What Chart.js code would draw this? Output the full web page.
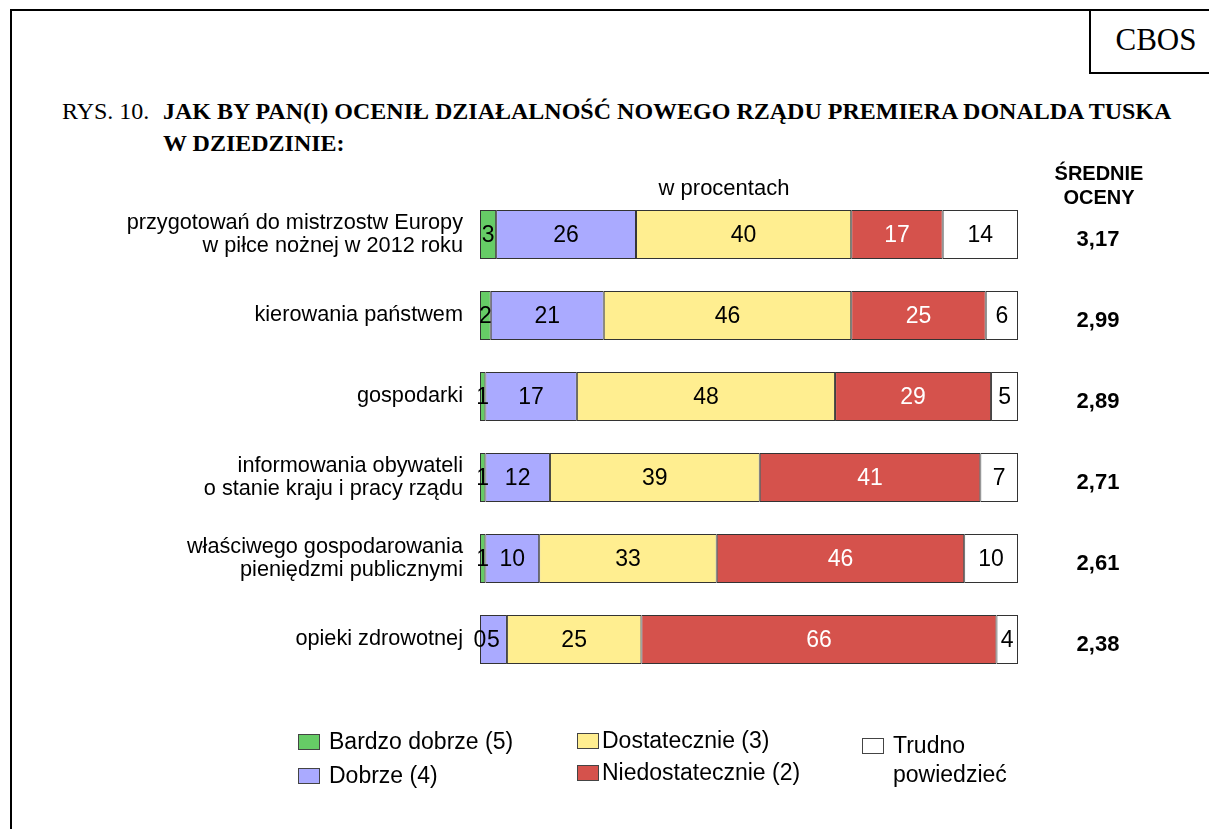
<!DOCTYPE html>
<html>
<head>
<meta charset="utf-8">
<script src="https://cdn.jsdelivr.net/npm/chart.js@4.4.1/dist/chart.umd.min.js"></script>
<style>
  body { margin: 0; background: #fff; }
  #page { position: relative; width: 1209px; height: 829px; overflow: hidden; font-family: "Liberation Sans", Arial, sans-serif; }
  #frame { position: absolute; left: 10px; top: 9px; width: 1400px; height: 1000px; border-left: 2px solid #000; border-top: 2px solid #000; }
  #cbos { position: absolute; left: 1089px; top: 9px; width: 200px; height: 63px; border-left: 2px solid #000; border-bottom: 2px solid #000; }
  #cbos span { position: absolute; left: 0; width: 130px; top: 13px; text-align: center; font: 31px "Liberation Serif", serif; }
  .title { position: absolute; font: 24px "Liberation Serif", serif; white-space: nowrap; }
  .title b { font-weight: bold; }
  #chart { position: absolute; left: 0; top: 0; }
  .leg { position: absolute; font-size: 23px; color: #000; white-space: nowrap; line-height: 29px; }
  .leg i { display: inline-block; width: 20px; height: 14px; border: 1px solid #444; vertical-align: -1px; margin-right: 9px; }
</style>
</head>
<body>
<div id="page">
  <div id="frame"></div>
  <div id="cbos"><span>CBOS</span></div>
  <div class="title" style="left:62px; top:98px;">RYS. 10.</div>
  <div class="title" style="left:163px; top:98px;"><b>JAK BY PAN(I) OCENIŁ DZIAŁALNOŚĆ NOWEGO RZĄDU PREMIERA DONALDA TUSKA</b></div>
  <div class="title" style="left:163px; top:130px;"><b>W DZIEDZINIE:</b></div>
  <canvas id="chart" width="1209" height="829"></canvas>
  <div id="legend"></div>
</div>
<script>
// dane z rysunku
var categories = [
  ["przygotowań do mistrzostw Europy", "w piłce nożnej w 2012 roku"],
  "kierowania państwem",
  "gospodarki",
  ["informowania obywateli", "o stanie kraju i pracy rządu"],
  ["właściwego gospodarowania", "pieniędzmi publicznymi"],
  "opieki zdrowotnej"
];
var seriesNames = ["Bardzo dobrze (5)", "Dobrze (4)", "Dostatecznie (3)", "Niedostatecznie (2)", "Trudno powiedzieć"];
var bardzoDobrze = [3, 2, 1, 1, 1, 0];
var dobrze = [26, 21, 17, 12, 10, 5];
var dostatecznie = [40, 46, 48, 39, 33, 25];
var niedostatecznie = [17, 25, 29, 41, 46, 66];
var trudno = [14, 6, 5, 7, 10, 4];
var srednieOceny = ["3,17", "2,99", "2,89", "2,71", "2,61", "2,38"];

var colors = ["#66CC66", "#AAAAFF", "#FFEE90", "#D5524C", "#FFFFFF"];
var labelColors = ["#000", "#000", "#000", "#fff", "#000"];
var values = [bardzoDobrze, dobrze, dostatecznie, niedostatecznie, trudno];

var datasets = values.map(function(v, i) {
  return {
    label: seriesNames[i],
    data: v,
    backgroundColor: colors[i],
    borderColor: "#333",
    borderWidth: 1,
    borderSkipped: false,
    barPercentage: 1,
    categoryPercentage: 0.605,
    labelColor: labelColors[i]
  };
});

var font = '"Liberation Sans", Arial, sans-serif';

var overlay = {
  id: "overlay",
  afterDatasetsDraw: function(chart) {
    var ctx = chart.ctx;
    ctx.save();
    ctx.textAlign = "center";
    ctx.textBaseline = "middle";
    ctx.font = "23px " + font;
    chart.data.datasets.forEach(function(ds, i) {
      chart.getDatasetMeta(i).data.forEach(function(bar, j) {
        ctx.fillStyle = ds.labelColor;
        ctx.fillText(String(ds.data[j]), (bar.x + bar.base) / 2, bar.y + 1);
      });
    });
    var y = chart.scales.y;
    ctx.fillStyle = "#000";
    ctx.font = "bold 22px " + font;
    srednieOceny.forEach(function(s, j) {
      ctx.fillText(s, 1098, y.getPixelForValue(j) + 5);
    });
    ctx.font = "bold 20px " + font;
    ctx.fillText("ŚREDNIE", 1099, 174);
    ctx.fillText("OCENY", 1099, 198);
    ctx.font = "22px " + font;
    ctx.fillText("w procentach", 724, 189);
    ctx.restore();
  }
};

new Chart(document.getElementById("chart").getContext("2d"), {
  type: "bar",
  data: { labels: categories, datasets: datasets },
  options: {
    indexAxis: "y",
    responsive: false,
    animation: false,
    layout: { padding: { left: 0, right: 191, top: 194, bottom: 149 } },
    plugins: { legend: { display: false }, tooltip: { enabled: false } },
    scales: {
      x: { stacked: true, min: 0, max: 100, display: false },
      y: {
        stacked: true,
        grid: { display: false, drawTicks: false },
        border: { display: false },
        afterFit: function(scale) { scale.width = 480; },
        ticks: {
          padding: 17,
          color: "#000",
          font: { family: font, size: 21.7, lineHeight: "23px" }
        }
      }
    }
  },
  plugins: [overlay]
});

// legenda
var legendPos = [[298, 727], [298, 761], [577, 726], [577, 758], [862, 731]];
var legend = document.getElementById("legend");
seriesNames.forEach(function(name, i) {
  var d = document.createElement("div");
  d.className = "leg";
  d.style.left = legendPos[i][0] + "px";
  d.style.top = legendPos[i][1] + "px";
  var txt = i === 4 ? "Trudno<br><span style='padding-left:31px'>powiedzieć</span>" : name;
  d.innerHTML = "<i style='background:" + colors[i] + "'></i>" + txt;
  if (i >= 2 && i < 4) d.querySelector("i").style.marginRight = "3px";
  legend.appendChild(d);
});
</script>
</body>
</html>
